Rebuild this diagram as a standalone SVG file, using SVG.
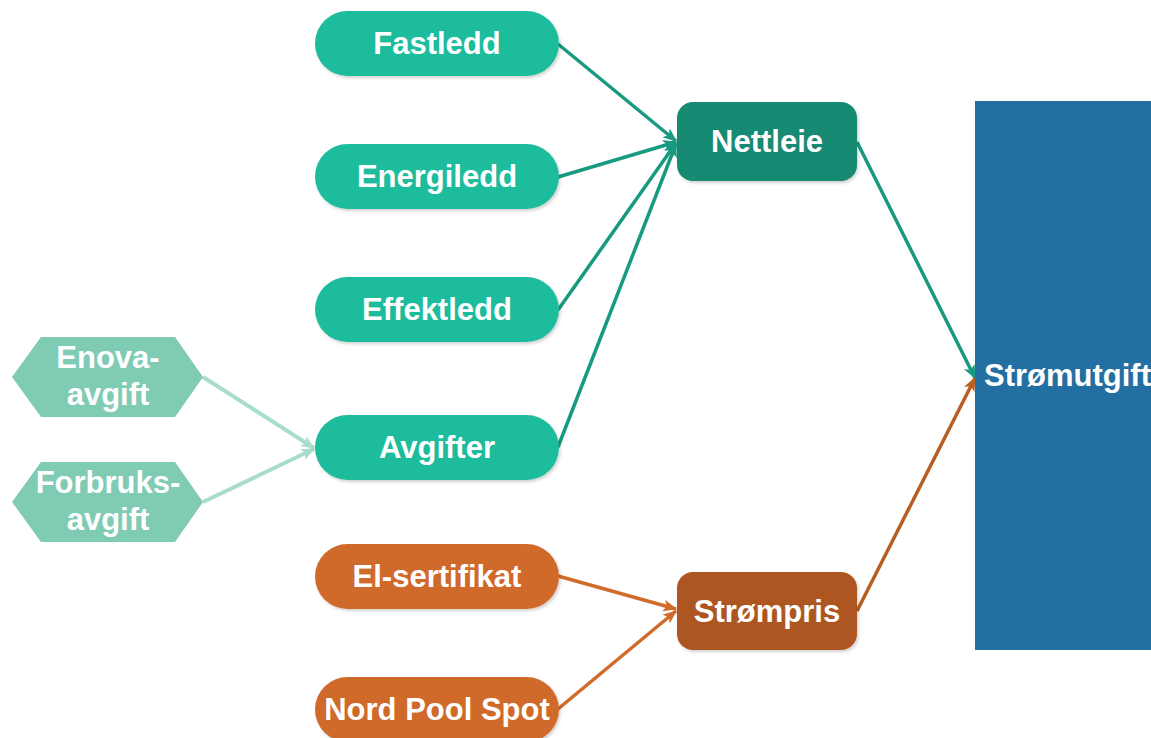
<svg xmlns="http://www.w3.org/2000/svg" width="1151" height="738" viewBox="0 0 1151 738">
  <defs>
    <style>
      text { font-family: "Liberation Sans", Arial, sans-serif; font-weight: bold; font-size: 31px; fill: #ffffff; text-anchor: middle; }
      .pill { fill: #1dbc9c; }
      .pill-or { fill: #d06b2c; }
      .hub { fill: #148a72; }
      .hub-or { fill: #ae5720; }
      .hex { fill: #7fcbb4; }
      .c-teal { stroke: #179a80; stroke-width: 3.5; fill: none; }
      .c-light { stroke: #a8dccb; stroke-width: 4; fill: none; }
      .c-or { stroke: #d06b2c; stroke-width: 3.5; fill: none; }
      .c-or-dark { stroke: #b85e22; stroke-width: 3.5; fill: none; }
    </style>
    <marker id="arr-teal" viewBox="0 0 12 10" refX="11" refY="5" markerWidth="14" markerHeight="12" markerUnits="userSpaceOnUse" orient="auto">
      <path d="M0,0 L12,5 L0,10 L3,5 Z" fill="#179a80"/>
    </marker>
    <marker id="arr-light" viewBox="0 0 12 10" refX="11" refY="5" markerWidth="14" markerHeight="12" markerUnits="userSpaceOnUse" orient="auto">
      <path d="M0,0 L12,5 L0,10 L3,5 Z" fill="#a8dccb"/>
    </marker>
    <marker id="arr-or" viewBox="0 0 12 10" refX="11" refY="5" markerWidth="14" markerHeight="12" markerUnits="userSpaceOnUse" orient="auto">
      <path d="M0,0 L12,5 L0,10 L3,5 Z" fill="#d06b2c"/>
    </marker>
    <marker id="arr-or-dark" viewBox="0 0 12 10" refX="11" refY="5" markerWidth="14" markerHeight="12" markerUnits="userSpaceOnUse" orient="auto">
      <path d="M0,0 L12,5 L0,10 L3,5 Z" fill="#b85e22"/>
    </marker>
    <filter id="shadow" x="-10%" y="-10%" width="125%" height="130%">
      <feDropShadow dx="1.5" dy="2" stdDeviation="1.5" flood-color="#000000" flood-opacity="0.18"/>
    </filter>
  </defs>

  <!-- connectors -->
  <g id="connectors">
    <line class="c-teal" x1="558" y1="44" x2="676" y2="141" marker-end="url(#arr-teal)"/>
    <line class="c-teal" x1="558" y1="177" x2="676" y2="142" marker-end="url(#arr-teal)"/>
    <line class="c-teal" x1="558" y1="310" x2="676" y2="143" marker-end="url(#arr-teal)"/>
    <line class="c-teal" x1="558" y1="447" x2="676" y2="144" marker-end="url(#arr-teal)"/>
    <line class="c-light" x1="203" y1="377" x2="314" y2="448" marker-end="url(#arr-light)"/>
    <line class="c-light" x1="203" y1="502" x2="314" y2="449" marker-end="url(#arr-light)"/>
    <line class="c-teal" x1="857" y1="142" x2="975" y2="378" marker-end="url(#arr-teal)"/>
    <line class="c-or-dark" x1="857" y1="611" x2="975" y2="378" marker-end="url(#arr-or-dark)"/>
    <line class="c-or" x1="558" y1="576" x2="676" y2="609" marker-end="url(#arr-or)"/>
    <line class="c-or" x1="558" y1="709" x2="676" y2="611" marker-end="url(#arr-or)"/>
  </g>

  <!-- total -->
  <g id="stromutgift">
    <rect x="975" y="101" width="180" height="549" fill="#236fa1"/>
    <text x="984" y="386" style="text-anchor:start">Strømutgift</text>
  </g>

  <!-- grid rent components -->
  <g id="fastledd">
    <rect class="pill" x="315" y="11" width="244" height="65" rx="32.5" filter="url(#shadow)"/>
    <text x="437" y="54">Fastledd</text>
  </g>
  <g id="energiledd">
    <rect class="pill" x="315" y="144" width="244" height="65" rx="32.5" filter="url(#shadow)"/>
    <text x="437" y="187">Energiledd</text>
  </g>
  <g id="effektledd">
    <rect class="pill" x="315" y="277" width="244" height="65" rx="32.5" filter="url(#shadow)"/>
    <text x="437" y="320">Effektledd</text>
  </g>
  <g id="avgifter">
    <rect class="pill" x="315" y="415" width="244" height="65" rx="32.5" filter="url(#shadow)"/>
    <text x="437" y="458">Avgifter</text>
  </g>

  <!-- taxes -->
  <g id="enova">
    <polygon class="hex" points="12,377 41,337 175,337 203,377 175,417 41,417"/>
    <text x="108" y="368">Enova-</text>
    <text x="108" y="405">avgift</text>
  </g>
  <g id="forbruk">
    <polygon class="hex" points="12,502 41,462 175,462 203,502 175,542 41,542"/>
    <text x="108" y="493">Forbruks-</text>
    <text x="108" y="530">avgift</text>
  </g>

  <!-- power price components -->
  <g id="elsertifikat">
    <rect class="pill-or" x="315" y="544" width="244" height="65" rx="32.5" filter="url(#shadow)"/>
    <text x="437" y="587">El-sertifikat</text>
  </g>
  <g id="nordpool">
    <rect class="pill-or" x="315" y="677" width="244" height="65" rx="32.5" filter="url(#shadow)"/>
    <text x="437" y="720">Nord Pool Spot</text>
  </g>

  <!-- hubs -->
  <g id="nettleie">
    <rect class="hub" x="677" y="102" width="180" height="79" rx="16" filter="url(#shadow)"/>
    <text x="767" y="152">Nettleie</text>
  </g>
  <g id="strompris">
    <rect class="hub-or" x="677" y="572" width="180" height="78" rx="16" filter="url(#shadow)"/>
    <text x="767" y="622">Strømpris</text>
  </g>
</svg>
